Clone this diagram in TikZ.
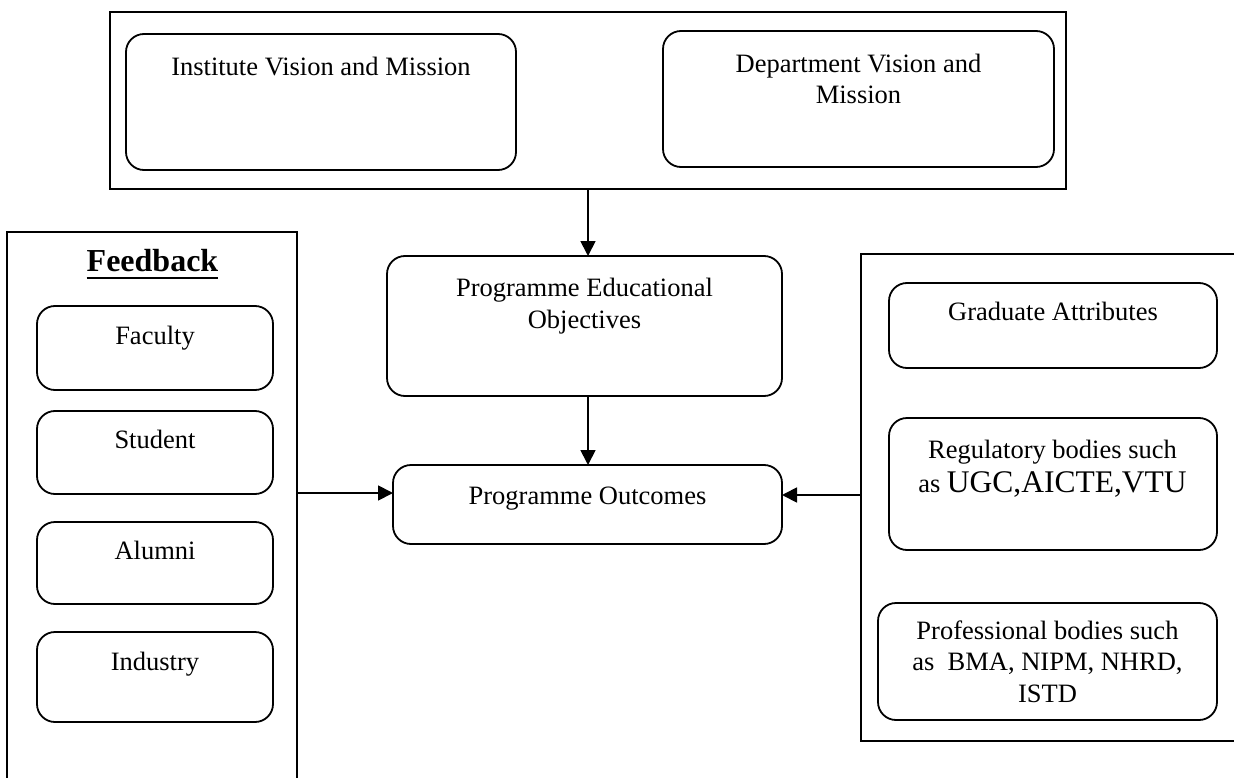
\documentclass[tikz,border=0pt]{standalone}
\usepackage{fontspec}
\setmainfont{Liberation Serif}
\usetikzlibrary{arrows.meta}
\begin{document}
\begin{tikzpicture}[x=1pt,y=-1pt,
  frame/.style={draw, line width=1.5pt, rectangle, inner sep=0pt, outer sep=0pt},
  frameline/.style={line width=1.5pt},
  rbox/.style={draw, line width=1.8pt, rectangle, rounded corners=18pt, inner sep=0pt, outer sep=0pt},
  lbl/.style={anchor=base, inner sep=0pt, align=center, font=\fontsize{26.5}{31.5}\selectfont},
  arr/.style={line width=1.8pt, -{Triangle[length=15pt,width=15pt]}}]
\useasboundingbox (0,0) rectangle (1234,778);

% top frame
\node[frame, minimum width=956pt, minimum height=177pt] (top) at (588,100.5) {};
\node[rbox, minimum width=390pt, minimum height=136pt] (inst) at (321,102) {};
\node[lbl] (instT) at (321,76) {Institute Vision and Mission};
\node[rbox, minimum width=391pt, minimum height=136pt] (dept) at (858.5,99) {};
\node[lbl] (deptT) at (858.5,104) {Department Vision and\\Mission};

% centre
\node[rbox, minimum width=395pt, minimum height=140pt] (peo) at (584.5,326) {};
\node[lbl] (peoT) at (584.5,328) {Programme Educational\\Objectives};
\node[rbox, minimum width=389pt, minimum height=79pt] (po) at (587.5,504.5) {};
\node[lbl] (poT) at (587.5,504) {Programme Outcomes};

% feedback frame (open at the bottom edge)
\draw[frameline] (7,779) |- (297,232) -- (297,779);
\coordinate (fbout) at (297,493);
\node[anchor=base, inner sep=0pt, font=\fontsize{32}{36}\selectfont\bfseries] (fbT) at (152.5,271.7) {Feedback};
\draw[line width=2pt] ([yshift=-6pt]fbT.base west) -- ([yshift=-6pt]fbT.base east);
\node[rbox, minimum width=236pt, minimum height=84pt] (fac) at (155,348) {};
\node[lbl] (facT) at (155,344) {Faculty};
\node[rbox, minimum width=236pt, minimum height=83pt] (stu) at (155,452.5) {};
\node[lbl] (stuT) at (155,448) {Student};
\node[rbox, minimum width=236pt, minimum height=82pt] (alu) at (155,563) {};
\node[lbl] (aluT) at (155,559) {Alumni};
\node[rbox, minimum width=236pt, minimum height=90pt] (ind) at (155,677) {};
\node[lbl] (indT) at (155,670) {Industry};

% right frame (open at the right edge)
\draw[frameline] (1235,254) -| (861,741) -- (1235,741);
\coordinate (rbout) at (861,495);
\node[rbox, minimum width=328pt, minimum height=85pt] (ga) at (1053,325.5) {};
\node[lbl] (gaT) at (1053,320) {Graduate Attributes};
\node[rbox, minimum width=328pt, minimum height=132pt] (reg) at (1053,484) {};
\node[lbl] (regT) at (1052.5,492) {Regulatory bodies such\\[2pt] as {\fontsize{31.5}{34}\selectfont UGC,AICTE,VTU}};
\node[rbox, minimum width=339pt, minimum height=117pt] (prof) at (1047.5,661.5) {};
\node[lbl] (profT) at (1047.5,702) {Professional bodies such\\as~ BMA, NIPM, NHRD,\\ISTD};

% connectors
\coordinate (topout) at (588,189);
\draw[arr] (topout) -- (topout |- peo.north);
\coordinate (peoout) at (588,396);
\draw[arr] (peoout) -- (peoout |- po.north);
\draw[arr] (fbout) -- (po.west |- fbout);
\draw[arr] (rbout) -- (po.east |- rbout);
\end{tikzpicture}
\end{document}
